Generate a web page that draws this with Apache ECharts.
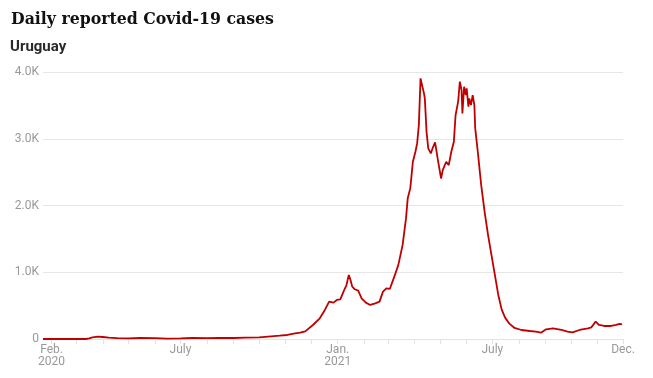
<!DOCTYPE html>
<html>
<head>
<meta charset="utf-8">
<title>Daily reported Covid-19 cases</title>
<script src="https://cdn.jsdelivr.net/npm/echarts@6/dist/echarts.min.js"></script>
<style>
  html, body { margin: 0; padding: 0; background: #fff; }
  #chart { width: 653px; height: 378px; }
</style>
</head>
<body>
<div id="chart"></div>
<script>
// values
const dates = [
  '2020-01-22', '2020-03-12', '2020-03-16', '2020-03-20', '2020-03-26', '2020-04-01', '2020-04-08',
  '2020-04-18', '2020-05-01', '2020-05-15', '2020-06-01', '2020-06-15', '2020-07-01', '2020-07-15',
  '2020-08-01', '2020-08-15', '2020-09-01', '2020-09-15', '2020-10-01', '2020-10-15', '2020-10-25',
  '2020-11-03', '2020-11-12', '2020-11-18', '2020-11-24', '2020-12-03', '2020-12-11', '2020-12-17',
  '2020-12-22', '2020-12-27', '2020-12-31', '2021-01-04', '2021-01-07', '2021-01-09', '2021-01-11',
  '2021-01-14', '2021-01-16', '2021-01-18', '2021-01-21', '2021-01-25', '2021-01-29', '2021-02-03',
  '2021-02-08', '2021-02-14', '2021-02-16', '2021-02-19', '2021-02-23', '2021-02-27', '2021-03-03',
  '2021-03-09', '2021-03-13', '2021-03-18', '2021-03-22', '2021-03-24', '2021-03-27', '2021-03-30',
  '2021-04-02', '2021-04-04', '2021-04-06', '2021-04-08', '2021-04-10', '2021-04-12', '2021-04-13',
  '2021-04-15', '2021-04-17', '2021-04-20', '2021-04-22', '2021-04-25', '2021-04-28', '2021-05-02',
  '2021-05-04', '2021-05-08', '2021-05-11', '2021-05-14', '2021-05-17', '2021-05-19', '2021-05-22',
  '2021-05-24', '2021-05-26', '2021-05-27', '2021-05-29', '2021-05-31', '2021-06-01', '2021-06-03',
  '2021-06-04', '2021-06-06', '2021-06-08', '2021-06-10', '2021-06-11', '2021-06-14', '2021-06-18',
  '2021-06-22', '2021-06-26', '2021-06-30', '2021-07-04', '2021-07-08', '2021-07-12', '2021-07-16',
  '2021-07-21', '2021-07-27', '2021-08-04', '2021-08-14', '2021-08-21', '2021-08-27', '2021-09-02',
  '2021-09-10', '2021-09-20', '2021-09-27', '2021-10-03', '2021-10-11', '2021-10-21', '2021-10-25',
  '2021-10-30', '2021-11-03', '2021-11-09', '2021-11-17', '2021-11-23', '2021-11-27', '2021-11-30'
];
const cases = [
  0, 0, 10, 25, 35, 30, 20,
  12, 10, 15, 12, 5, 8, 15,
  12, 18, 15, 20, 25, 40, 50,
  60, 85, 95, 115, 210, 310, 435,
  560, 545, 585, 595, 685, 745, 795,
  960, 885, 785, 745, 725, 610, 545,
  510, 535, 510, 560, 710, 760, 750,
  960, 1110, 1410, 1810, 2110, 2260, 2655,
  2805, 2930, 3205, 3905, 3880, 3680, 3605,
  3105, 2855, 2780, 2855, 2945, 2705, 2405,
  2530, 2655, 2605, 2805, 2955, 3355, 3555,
  3855, 3730, 3380, 3780, 3655, 3755, 3480,
  3605, 3505, 3655, 3505, 3155, 2805, 2305,
  1905, 1560, 1260, 960, 660, 440, 320,
  230, 165, 135, 120, 110, 95, 145,
  160, 135, 110, 100, 135, 160, 175,
  260, 210, 195, 195, 210, 225, 220
];
const axisStart = '2020-01-22';
const axisEnd = '2021-12-01';
const labelDates = ['2020-02-01', '2020-07-01', '2021-01-01', '2021-07-01', '2021-12-01'];
const labelTexts = ['Feb.\n2020', 'July', 'Jan.\n2021', 'July', 'Dec.'];
const tickDates = [
  '2020-02-01', '2020-03-01', '2020-04-01', '2020-05-01', '2020-06-01', '2020-07-01', '2020-08-01',
  '2020-09-01', '2020-10-01', '2020-11-01', '2020-12-01', '2021-01-01', '2021-02-01', '2021-03-01',
  '2021-04-01', '2021-05-01', '2021-06-01', '2021-07-01', '2021-08-01', '2021-09-01', '2021-10-01',
  '2021-11-01', '2021-12-01'
];

const ts = s => Date.parse(s + 'T00:00:00Z');
const labelTs = labelDates.map(ts);

const chart = echarts.init(document.getElementById('chart'));
chart.setOption({
  backgroundColor: '#fff',
  animation: false,
  title: [
    {
      text: 'Daily reported Covid-19 cases',
      left: 6,
      top: 5,
      textStyle: {
        fontFamily: 'DejaVu Serif Condensed',
        fontWeight: 'bold',
        fontSize: 17.5,
        color: '#111'
      }
    },
    {
      text: 'Uruguay',
      left: 5,
      top: 35,
      textStyle: {
        fontFamily: 'Roboto',
        fontWeight: 'bold',
        fontSize: 15,
        color: '#2a2a2a'
      }
    }
  ],
  grid: { left: 43, right: 30, top: 72, bottom: 39 },
  xAxis: {
    type: 'value',
    min: ts(axisStart),
    max: ts(axisEnd),
    axisLine: { show: true, lineStyle: { color: '#e3e3e3' } },
    axisTick: {
      show: true,
      length: 5,
      lineStyle: { color: '#e3e3e3' },
      customValues: tickDates.map(ts)
    },
    axisLabel: {
      customValues: labelTs,
      color: '#999',
      fontFamily: 'Roboto',
      fontSize: 12,
      lineHeight: 12,
      margin: 5,
      showMinLabel: true,
      showMaxLabel: true,
      formatter: v => {
        const i = labelTs.findIndex(t => Math.abs(t - v) < 43200000);
        return i >= 0 ? labelTexts[i] : '';
      }
    },
    splitLine: { show: false }
  },
  yAxis: {
    type: 'value',
    min: 0,
    max: 4000,
    interval: 1000,
    axisLine: { show: false },
    axisTick: { show: false },
    axisLabel: {
      color: '#999',
      fontFamily: 'Roboto',
      fontSize: 12,
      margin: 4,
      formatter: v => v === 0 ? '0' : (v / 1000).toFixed(1) + 'K'
    },
    splitLine: { lineStyle: { color: '#e6e6e6' } }
  },
  series: [{
    type: 'line',
    data: dates.map((d, i) => [ts(d), cases[i]]),
    showSymbol: false,
    lineStyle: { color: '#c00000', width: 1.8 },
    itemStyle: { color: '#c00000' }
  }]
});
</script>
</body>
</html>
